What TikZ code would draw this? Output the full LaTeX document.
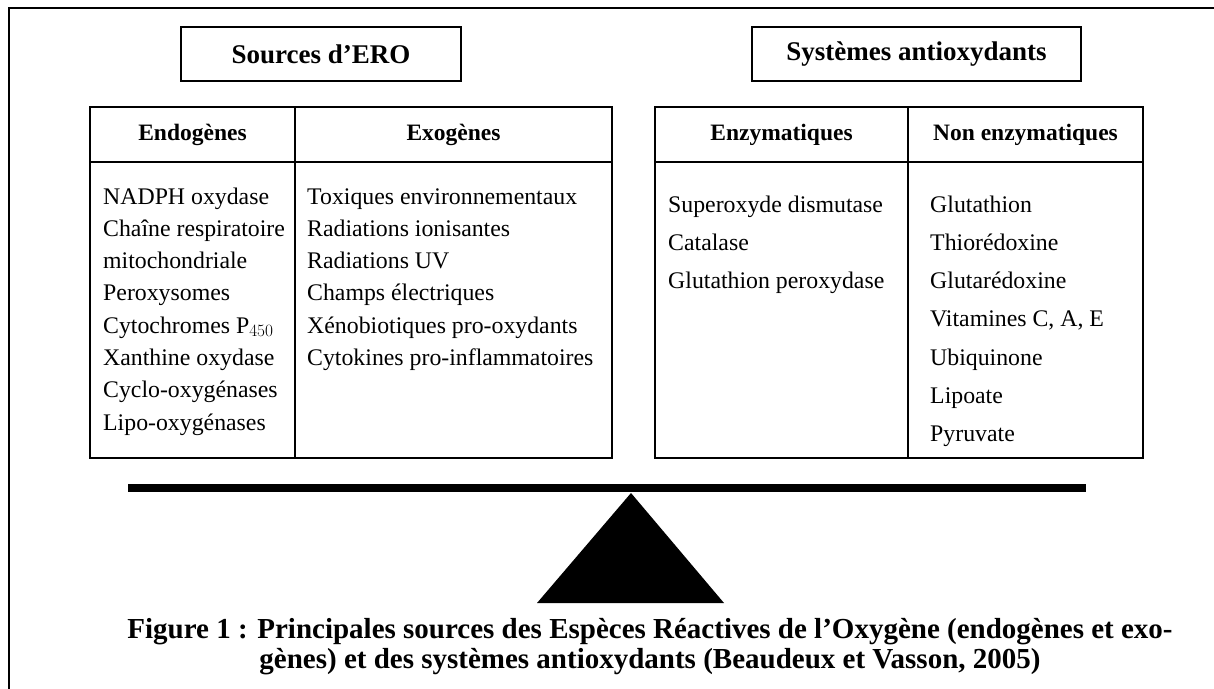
\documentclass[tikz,border=0pt]{standalone}
\usepackage{fontspec}
\setmainfont{Liberation Serif}
\tikzset{
    titlebox/.style={draw, line width=1.6pt, inner sep=0pt, font=\fontsize{27}{32}\selectfont\bfseries},
    cell/.style={draw, line width=1.3pt, inner sep=0pt},
    head/.style={font=\fontsize{23.5}{28}\selectfont\bfseries},
    item/.style={anchor=base west, inner sep=0pt, font=\fontsize{23.8}{28}\selectfont},
    caption/.style={anchor=base, inner sep=0pt, font=\fontsize{29}{34}\selectfont\bfseries}
}
\begin{document}
\begin{tikzpicture}[x=1pt,y=-1pt]
    \useasboundingbox (0,0) rectangle (1214,688);
    \begin{scope}
        \clip (0,0) rectangle (1214,688);
        \draw[line width=2pt] (9,8) rectangle (1291,700);
    \end{scope}
    \node[titlebox, minimum width=280, minimum height=54] (sources) at (321,54) {Sources d’ERO};
    \node[titlebox, minimum width=329, minimum height=54] (systemes) at (916.5,54) {Systèmes antioxydants};
    \begin{scope}[every node/.style={cell}]
        \node[head, minimum width=205, minimum height=55] (endoh) at (192.5,134.5) {Endogènes};
        \node[head, minimum width=317, minimum height=55] (exoh) at (453.5,134.5) {Exogènes};
        \node[minimum width=205, minimum height=296] (endob) at (192.5,310) {};
        \node[minimum width=317, minimum height=296] (exob) at (453.5,310) {};
        \node[head, minimum width=253, minimum height=55] (enzh) at (781.5,134.5) {Enzymatiques};
        \node[head, minimum width=235, minimum height=55] (nonh) at (1025.5,134.5) {Non enzymatiques};
        \node[minimum width=253, minimum height=296] (enzb) at (781.5,310) {};
        \node[minimum width=235, minimum height=296] (nonb) at (1025.5,310) {};
    \end{scope}
    \begin{scope}[every node/.style={item}]
        \node (endo1) at (103,204) {NADPH oxydase};
        \node (endo2) at (103,236.3) {Chaîne respiratoire};
        \node (endo3) at (103,268.6) {mitochondriale};
        \node (endo4) at (103,300.9) {Peroxysomes};
        \node (endo5) at (103,333.2) {Cytochromes P$_{450}$};
        \node (endo6) at (103,365.5) {Xanthine oxydase};
        \node (endo7) at (103,397.8) {Cyclo-oxygénases};
        \node (endo8) at (103,430.1) {Lipo-oxygénases};
        \node (exo1) at (307,204) {Toxiques environnementaux};
        \node (exo2) at (307,236.3) {Radiations ionisantes};
        \node (exo3) at (307,268.6) {Radiations UV};
        \node (exo4) at (307,300.9) {Champs électriques};
        \node (exo5) at (307,333.2) {Xénobiotiques pro-oxydants};
        \node (exo6) at (307,365.5) {Cytokines pro-inflammatoires};
        \node (enz1) at (668,212) {Superoxyde dismutase};
        \node (enz2) at (668,250.3) {Catalase};
        \node (enz3) at (668,288.6) {Glutathion peroxydase};
        \node (non1) at (930,212) {Glutathion};
        \node (non2) at (930,250.3) {Thiorédoxine};
        \node (non3) at (930,288.6) {Glutarédoxine};
        \node (non4) at (930,326.9) {Vitamines C, A, E};
        \node (non5) at (930,365.2) {Ubiquinone};
        \node (non6) at (930,403.5) {Lipoate};
        \node (non7) at (930,441.8) {Pyruvate};
    \end{scope}
    \coordinate (beamL) at (128,488);
    \coordinate (beamR) at (1086,488);
    \coordinate (apex) at (631,493);
    \coordinate (baseL) at (537,603);
    \coordinate (baseR) at (724,603);
    \draw[line width=8pt] (beamL) -- (beamR);
    \fill (apex) -- (baseL) -- (baseR) -- cycle;
    \node[caption] (cap1) at (650,638) {Figure 1 : Principales sources des Espèces Réactives de l’Oxygène (endogènes et exo-};
    \node[caption] (cap2) at (650,668) {gènes) et des systèmes antioxydants (Beaudeux et Vasson, 2005)};
\end{tikzpicture}
\end{document}
